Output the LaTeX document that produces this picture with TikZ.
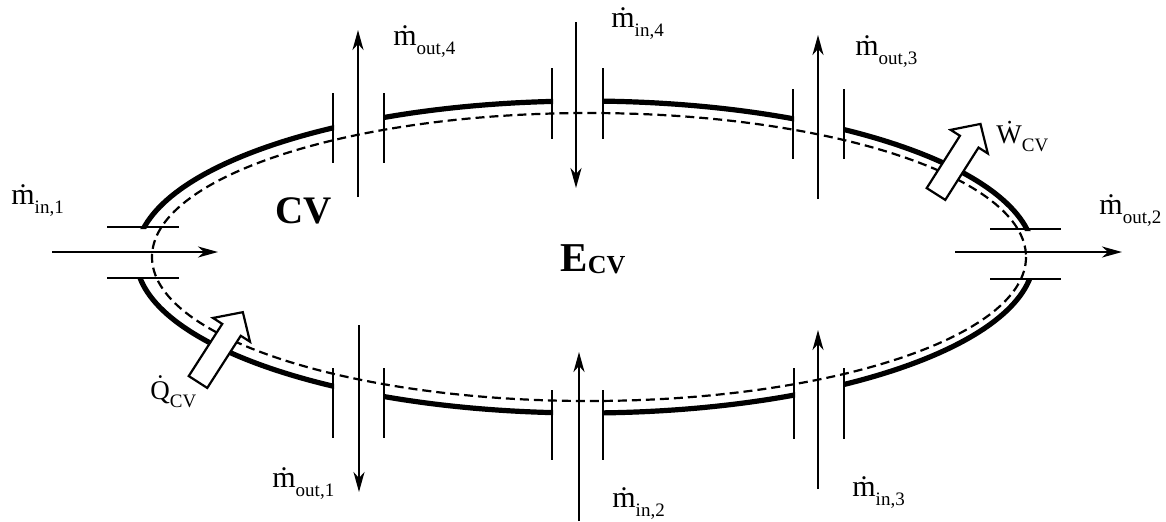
\documentclass[tikz,border=0pt]{standalone}
\usepackage{fontspec}
\setmainfont{Liberation Serif}
\usetikzlibrary{arrows.meta}

\newcommand{\mflow}[1]{\.{m}\raisebox{-4.5pt}{\fontsize{9.5}{10}\selectfont #1}}
\newcommand{\ratesub}[2]{\.{#1}\raisebox{-4pt}{\fontsize{9.5}{10}\selectfont #2}}

\begin{document}
\begin{tikzpicture}[x=0.5pt, y=-0.5pt,
    wall/.style={line width=2.6pt},
    surface/.style={line width=1.1pt, dash pattern=on 4.5pt off 2.5pt},
    portbar/.style={line width=1.4pt},
    flow/.style={line width=1.1pt, -{Stealth[length=10pt,width=5.5pt,inset=3pt]}},
    blockarrow/.style={line width=1.1pt, fill=white, line join=miter},
    lbl/.style={inner sep=0pt, anchor=base west, font=\fontsize{15}{17}\selectfont}]

\useasboundingbox (0,0) rectangle (1166,521);

% thick wall, cut open at the ports
\begin{scope}[even odd rule]
  \clip (0,0) rectangle (1166,521)
     (100,229) rectangle (190,277) (980,231) rectangle (1070,278)
     (334,85) rectangle (383,170) (553,60) rectangle (602,145) (794,85) rectangle (843,165)
     (334,360) rectangle (383,445) (553,385) rectangle (602,465) (795,360) rectangle (843,445);
  \draw[wall] (585,257) ellipse[x radius=449, y radius=156];
\end{scope}

% control surface
\draw[surface] (589,257) ellipse[x radius=437, y radius=144];

% port walls
\foreach \x/\ya/\yb in {333/93/163, 384/93/163, 552/68/139, 603/68/139, 793/89/159, 844/89/159,
                        333/368/438, 384/368/438, 552/390/460, 603/390/460, 794/368/439, 844/368/439}
  \draw[portbar] (\x,\ya) -- (\x,\yb);
\foreach \y/\xa/\xb in {227/107/179, 278/107/179, 229/990/1061, 279/990/1061}
  \draw[portbar] (\xa,\y) -- (\xb,\y);

% mass flows
\coordinate (in1a) at (52,252);   \coordinate (in1b) at (218,252);
\coordinate (out2a) at (955,252); \coordinate (out2b) at (1122,252);
\coordinate (out4a) at (358,197); \coordinate (out4b) at (358,30);
\coordinate (in4a) at (576,22);   \coordinate (in4b) at (576,188);
\coordinate (out3a) at (818,199); \coordinate (out3b) at (818,35);
\coordinate (out1a) at (359,325); \coordinate (out1b) at (359,492);
\coordinate (in2a) at (579,521);  \coordinate (in2b) at (579,352);
\coordinate (in3a) at (818,489);  \coordinate (in3b) at (818,330);
\foreach \p in {in1, out2, out4, in4, out3, out1, in2, in3}
  \draw[flow] (\p a) -- (\p b);

% heat and work
\foreach \bx/\by/\ang in {198/382/57.3, 936/194/57.6}
  \draw[blockarrow, shift={(\bx,\by)}, rotate=\ang]
    (0,-11) -- (62,-11) -- (62,-22) -- (83,0) -- (62,22) -- (62,11) -- (0,11) -- cycle;

% labels
\node[lbl] (lin1) at (11,204) {\mflow{in,1}};
\node[lbl] (lout4) at (393,45) {\mflow{out,4}};
\node[lbl] (lin4) at (611,27) {\mflow{in,4}};
\node[lbl] (lout3) at (855,55) {\mflow{out,3}};
\node[lbl] (lout2) at (1099,214) {\mflow{out,2}};
\node[lbl] (lout1) at (272,487) {\mflow{out,1}};
\node[lbl] (lin2) at (612,507) {\mflow{in,2}};
\node[lbl] (lin3) at (852,496) {\mflow{in,3}};
\node[lbl, font=\fontsize{13.5}{15}\selectfont] (lq) at (150,399) {\ratesub{Q}{CV}};
\node[lbl, font=\fontsize{13.5}{15}\selectfont] (lw) at (996,143) {\ratesub{W}{CV}};
\node[inner sep=0pt, anchor=base, font=\bfseries\fontsize{19.5}{21}\selectfont] (lcv) at (304,223) {CV};
\node[lbl, font=\bfseries\fontsize{20.5}{22}\selectfont] (lecv) at (560,271)
  {E\raisebox{-1pt}{\fontsize{13}{15}\selectfont CV}};
\end{tikzpicture}
\end{document}
